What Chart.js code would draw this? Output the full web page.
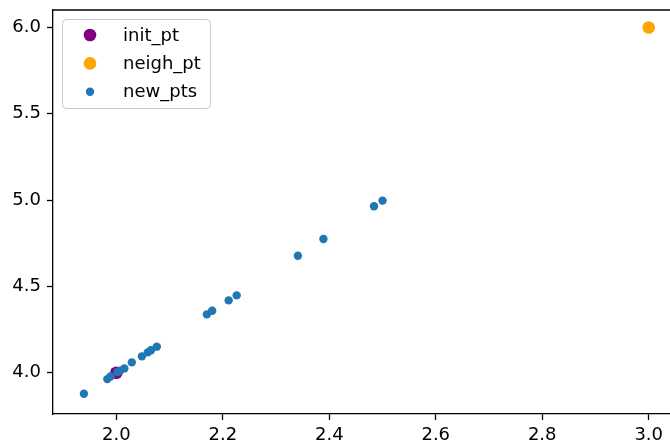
<!DOCTYPE html>
<html>
<head>
<meta charset="utf-8">
<script src="https://cdn.jsdelivr.net/npm/chart.js@4/dist/chart.umd.min.js"></script>
<style>
  html, body { margin: 0; padding: 0; background: #fff; }
</style>
</head>
<body>
<canvas id="myChart" width="670" height="444"></canvas>
<script>
const scatterChart = document.querySelector('#myChart').getContext('2d');

// Points
const initX = [2.0];
const initY = [4.0];
const neighX = [3.0];
const neighY = [6.0];
const newX = [1.939, 1.983, 1.989, 2.002, 2.007, 2.015, 2.029, 2.048, 2.059, 2.065,
              2.076, 2.170, 2.180, 2.211, 2.226, 2.341, 2.389, 2.484, 2.500];
const newY = [3.878, 3.963, 3.978, 4.004, 4.012, 4.025, 4.060, 4.095, 4.118, 4.130,
              4.151, 4.338, 4.359, 4.419, 4.448, 4.678, 4.775, 4.964, 4.997];

// Tick labels
const xTicks = [2.0, 2.2, 2.4, 2.6, 2.8, 3.0];
const yTicks = [4.0, 4.5, 5.0, 5.5, 6.0];

const toPoints = (xs, ys) => xs.map((x, i) => ({ x: x, y: ys[i] }));

Chart.defaults.font.family = 'DejaVu Sans';
Chart.defaults.font.size = 18;
Chart.defaults.color = '#000';

// top spine (matplotlib box)
const topSpine = {
    id: 'topSpine',
    afterDraw(chart) {
        const { ctx, chartArea } = chart;
        ctx.save();
        ctx.strokeStyle = '#000';
        ctx.lineWidth = 1.3;
        ctx.beginPath();
        ctx.moveTo(chartArea.left, chartArea.top);
        ctx.lineTo(chartArea.right, chartArea.top);
        ctx.stroke();
        ctx.restore();
    },
};

// legend box in the upper left, like matplotlib
const boxLegend = {
    id: 'boxLegend',
    afterDraw(chart) {
        const ctx = chart.ctx;
        const x0 = 62, y0 = 19, w = 148, h = 89, r = 4;
        ctx.save();
        ctx.globalAlpha = 0.8;
        ctx.fillStyle = '#fff';
        ctx.strokeStyle = '#cccccc';
        ctx.lineWidth = 1;
        ctx.beginPath();
        ctx.roundRect(x0 + 0.5, y0 + 0.5, w, h, r);
        ctx.fill();
        ctx.globalAlpha = 1;
        ctx.stroke();
        ctx.textBaseline = 'middle';
        ctx.textAlign = 'left';
        ctx.font = '18px "DejaVu Sans"';
        chart.data.datasets.forEach((ds, i) => {
            const cy = 35 + i * 28.4;
            ctx.fillStyle = ds.backgroundColor;
            ctx.beginPath();
            ctx.arc(90, cy, ds.pointRadius, 0, Math.PI * 2);
            ctx.fill();
            ctx.fillStyle = '#000';
            ctx.fillText(ds.label, 123, cy + 1);
        });
        ctx.restore();
    },
};

const data = {
    datasets: [
        {
            label: 'init_pt',
            data: toPoints(initX, initY),
            backgroundColor: '#800080',
            pointRadius: 6.3,
            borderWidth: 0,
            order: 2,
        },
        {
            label: 'neigh_pt',
            data: toPoints(neighX, neighY),
            backgroundColor: '#ffa500',
            pointRadius: 6.3,
            borderWidth: 0,
            order: 1,
        },
        {
            label: 'new_pts',
            data: toPoints(newX, newY),
            backgroundColor: '#1f77b4',
            pointRadius: 4.2,
            borderWidth: 0,
            order: 0,
        },
    ],
};

const config = {
    type: 'scatter',
    data: data,
    plugins: [topSpine, boxLegend],
    options: {
        responsive: false,
        animation: false,
        layout: { autoPadding: false, padding: { top: 10, right: 0, left: 0, bottom: 0 } },
        plugins: {
            legend: { display: false },
            tooltip: { enabled: false },
        },
        elements: { point: { hoverRadius: 0 } },
        scales: {
            x: {
                type: 'linear',
                min: 1.881,
                max: 3.040,
                afterBuildTicks: (axis) => {
                    axis.ticks = xTicks.map((v) => ({ value: v }));
                },
                afterFit: (axis) => {
                    axis.height = 30;
                    axis.paddingLeft = 0;
                    axis.paddingRight = 0;
                },
                ticks: {
                    padding: 5,
                    maxRotation: 0,
                    autoSkip: false,
                    callback: (value) => value.toFixed(1),
                },
                grid: {
                    drawOnChartArea: false,
                    drawTicks: true,
                    tickLength: 6,
                    tickColor: '#000',
                    tickWidth: 1.3,
                },
                border: { display: true, color: '#000', width: 1.3 },
            },
            y: {
                type: 'linear',
                min: 3.761,
                max: 6.101,
                afterBuildTicks: (axis) => {
                    axis.ticks = yTicks.map((v) => ({ value: v }));
                },
                afterFit: (axis) => {
                    axis.width = 53;
                    axis.paddingTop = 0;
                    axis.paddingBottom = 0;
                },
                ticks: {
                    padding: 6,
                    autoSkip: false,
                    callback: (value) => value.toFixed(1),
                },
                grid: {
                    drawOnChartArea: false,
                    drawTicks: true,
                    tickLength: 6,
                    tickColor: '#000',
                    tickWidth: 1.3,
                },
                border: { display: true, color: '#000', width: 1.3 },
            },
        },
    },
};

const myChart = new Chart(scatterChart, config);
</script>
</body>
</html>
